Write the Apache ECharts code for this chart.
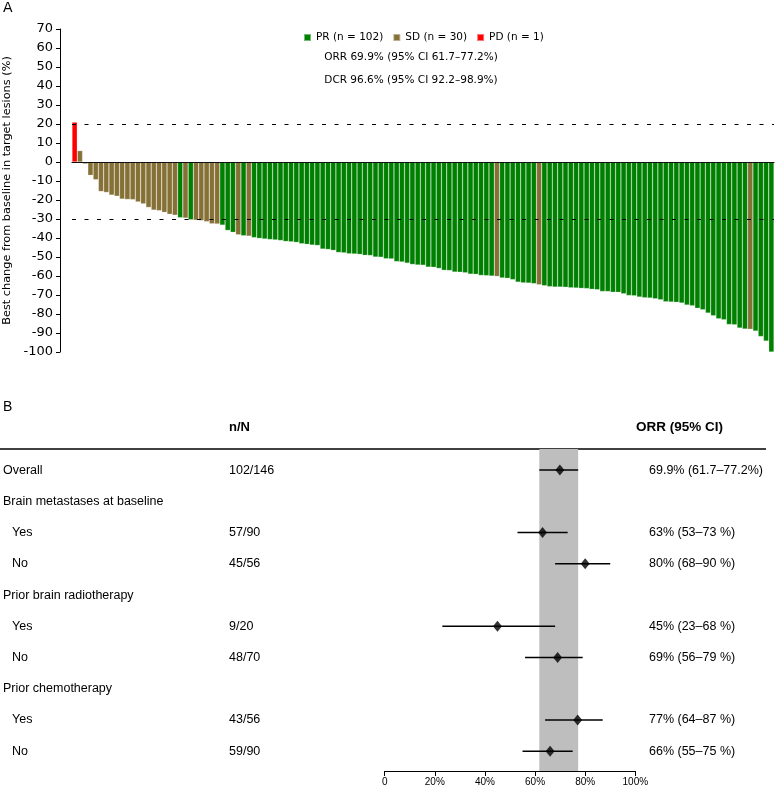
<!DOCTYPE html>
<html><head><meta charset="utf-8">
<script src="https://cdn.jsdelivr.net/npm/echarts/dist/echarts.min.js"></script>
<style>html,body{margin:0;padding:0;background:#fff}#c{width:778px;height:793px}</style>
</head><body><div id="c"></div>
<script>
// ---------- Panel A: waterfall data ----------
const bestChange = [
  21, 6, -1, -7, -9.3, -15.5, -16, -17.4, -18, -19.5,
  -19.7, -19.8, -21, -22, -23.9, -25.3, -25.6, -26.5, -27.5, -28,
  -29.3, -29.5, -30.4, -30.6, -30.8, -31.4, -32.5, -32.6, -33.2, -36,
  -37, -38.3, -38.8, -39, -39.8, -40.2, -40.5, -40.8, -41, -41.3,
  -41.8, -42, -42.3, -43, -43.3, -43.7, -43.9, -45.8, -46, -46.5,
  -47.6, -47.8, -48.3, -48.4, -48.6, -49.1, -49.2, -50, -50.1, -50.9,
  -51, -52.4, -52.6, -53.2, -53.9, -54.2, -54.3, -55.3, -55.4, -56,
  -57, -57.1, -57.9, -58, -58.3, -59, -59.1, -59.7, -59.8, -60,
  -60.2, -61, -61.2, -61.9, -63.2, -63.6, -63.7, -64, -64.6, -65.1,
  -65.6, -65.8, -65.8, -65.9, -66.2, -66.3, -66.5, -66.6, -67, -67.2,
  -68.1, -68.2, -68.5, -68.6, -69.3, -70.2, -70.4, -71.1, -71.4, -71.6,
  -72, -72.5, -73.5, -73.7, -73.8, -74.2, -75.3, -75.6, -77, -77.7,
  -79.5, -80.9, -82.5, -83, -85.5, -85.7, -87.4, -87.9, -88, -89,
  -91.8, -94.2, -100
];
const response = [
  'PD','SD','SD','SD','SD','SD','SD','SD','SD','SD',
  'SD','SD','SD','SD','SD','SD','SD','SD','SD','SD',
  'PR','SD','PR','SD','SD','SD','SD','SD','PR','PR',
  'PR','SD','PR','SD','PR','PR','PR','PR','PR','PR',
  'PR','PR','PR','PR','PR','PR','PR','PR','PR','PR',
  'PR','PR','PR','PR','PR','PR','PR','PR','PR','PR',
  'PR','PR','PR','PR','PR','PR','PR','PR','PR','PR',
  'PR','PR','PR','PR','PR','PR','PR','PR','PR','PR',
  'SD','PR','PR','PR','PR','PR','PR','PR','SD','PR',
  'PR','PR','PR','PR','PR','PR','PR','PR','PR','PR',
  'PR','PR','PR','PR','PR','PR','PR','PR','PR','PR',
  'PR','PR','PR','PR','PR','PR','PR','PR','PR','PR',
  'PR','PR','PR','PR','PR','PR','PR','PR','SD','PR',
  'PR','PR','PR'
];
const responseTypes = ['PR', 'SD', 'PD'];
const thresholdLines = [20, -30];
const orrSummary = 'ORR 69.9% (95% CI 61.7–77.2%)';
const dcrSummary = 'DCR 96.6% (95% CI 92.2–98.9%)';

// ---------- Panel B: forest data ----------
const rowLabels = ['Overall', 'Brain metastases at baseline', 'Yes', 'No',
  'Prior brain radiotherapy', 'Yes', 'No', 'Prior chemotherapy', 'Yes', 'No'];
const responders = [102, null, 57, 45, null, 9, 48, null, 43, 59];
const totals     = [146, null, 90, 56, null, 20, 70, null, 56, 90];
const orr        = [69.9, null, 63, 80, null, 45, 69, null, 77, 66];
const ciLow      = [61.7, null, 53, 68, null, 23, 56, null, 64, 55];
const ciHigh     = [77.2, null, 73, 90, null, 68, 79, null, 87, 75];
const forestTicks = [0, 20, 40, 60, 80, 100];

// ---------- styling ----------
const colors = { PR: '#008000', SD: '#857036', PD: '#FF0000' };
const fA = '"DejaVu Sans", sans-serif';
const fB = '"Liberation Sans", Arial, sans-serif';

const chart = echarts.init(document.getElementById('c'), null, { renderer: 'canvas' });

const categories = bestChange.map((_, i) => i + 1);
const barSeries = responseTypes.map((t, si) => {
  const s = {
    type: 'bar',
    name: `${t} (n = ${response.filter(r => r === t).length})`,
    xAxisIndex: 0, yAxisIndex: 0,
    data: bestChange.map((v, i) => response[i] === t ? v : '-'),
    barGap: '-100%', barCategoryGap: '0%',
    itemStyle: { color: colors[t], borderColor: 'rgba(255,255,255,0.45)', borderWidth: 0.5 },
    silent: true
  };
  if (si === responseTypes.length - 1) {
    s.markLine = {
      silent: true, symbol: 'none', label: { show: false },
      lineStyle: { color: '#000', type: [4, 8.5], width: 1 },
      data: thresholdLines.map(v => ({ yAxis: v }))
    };
  }
  return s;
});

const rows = rowLabels.map((_, k) => k);
const fmt = k => k === 0
  ? `${orr[k]}% (${ciLow[k]}–${ciHigh[k]}%)`
  : `${orr[k]}% (${ciLow[k]}–${ciHigh[k]} %)`;

const option = {
  animation: false,
  backgroundColor: '#fff',
  legend: {
    data: barSeries.map(s => s.name),
    left: 298, top: 27, padding: 5,
    icon: 'rect', itemWidth: 7, itemHeight: 7, itemGap: 9,
    textStyle: { fontFamily: fA, fontSize: 10.5, color: '#000' },
    selectedMode: false
  },
  grid: [
    { left: 72, right: 4, top: 29, height: 323, outerBoundsMode: 'none', containLabel: false },
    { left: 384.7, right: 142.7, top: 449, bottom: 22, outerBoundsMode: 'none', containLabel: false }
  ],
  xAxis: [
    { type: 'category', gridIndex: 0, data: categories, z: 10,
      axisLine: { onZero: true, lineStyle: { color: '#111', width: 1.2 } },
      axisTick: { show: false }, axisLabel: { show: false }, splitLine: { show: false } },
    { type: 'value', gridIndex: 1, min: 0, max: 100, interval: 20,
      axisLine: { show: true, onZero: false, lineStyle: { color: '#000', width: 1 } },
      axisTick: { show: true, length: 5, lineStyle: { color: '#000' } },
      axisLabel: { color: '#000', fontFamily: fB, fontSize: 10, margin: 6,
        formatter: v => forestTicks.includes(v) ? (v === 0 ? '0' : v + '%') : '' },
      splitLine: { show: false } }
  ],
  yAxis: [
    { type: 'value', gridIndex: 0, min: -100, max: 70, interval: 10, offset: 12,
      axisLine: { show: true, lineStyle: { color: '#000' } },
      axisTick: { show: true, length: 4, lineStyle: { color: '#000' } },
      axisLabel: { color: '#000', fontFamily: fA, fontSize: 13, margin: 7 },
      splitLine: { show: false },
      name: 'Best change from baseline in target lesions (%)',
      nameLocation: 'middle', nameGap: 44,
      nameTextStyle: { fontFamily: fA, fontSize: 11.3, color: '#000' } },
    { type: 'value', gridIndex: 1, inverse: true, min: -0.675, max: 9.632, show: false }
  ],
  graphic: [
    { type: 'text', x: 3, y: 1, style: { text: 'A', font: `14px ${fA}`, fill: '#000' } },
    { type: 'text', x: 411, y: 57, style: { text: orrSummary, font: `10.5px ${fA}`, fill: '#000', align: 'center', verticalAlign: 'middle' } },
    { type: 'text', x: 411, y: 80, style: { text: dcrSummary, font: `10.5px ${fA}`, fill: '#000', align: 'center', verticalAlign: 'middle' } },
    { type: 'text', x: 3, y: 407, style: { text: 'B', font: `14px ${fB}`, fill: '#000', verticalAlign: 'middle' } },
    { type: 'text', x: 229, y: 427, style: { text: 'n/N', font: `bold 13px ${fB}`, fill: '#000', verticalAlign: 'middle' } },
    { type: 'text', x: 636, y: 427, style: { text: 'ORR (95% CI)', font: `bold 13.5px ${fB}`, fill: '#000', verticalAlign: 'middle' } },
    { type: 'line', shape: { x1: 0, y1: 449, x2: 766, y2: 449 }, style: { stroke: '#000', lineWidth: 1.5 } }
  ],
  series: [
    ...barSeries,
    { type: 'scatter', xAxisIndex: 1, yAxisIndex: 1, data: [], z: 1, silent: true,
      markArea: { silent: true, itemStyle: { color: '#BEBEBE' },
        data: [[{ xAxis: ciLow[0] }, { xAxis: ciHigh[0] }]] } },
    { type: 'custom', xAxisIndex: 1, yAxisIndex: 1, z: 3, silent: true,
      data: rows.filter(k => orr[k] != null).map(k => [ciLow[k], ciHigh[k], k]),
      renderItem: (p, api) => {
        const a = api.coord([api.value(0), api.value(2)]);
        const b = api.coord([api.value(1), api.value(2)]);
        return { type: 'line', shape: { x1: a[0], y1: a[1], x2: b[0], y2: b[1] },
          style: { stroke: '#000', lineWidth: 1.5 } };
      } },
    { type: 'scatter', xAxisIndex: 1, yAxisIndex: 1, z: 4, silent: true,
      symbol: 'diamond', symbolSize: [9, 11], itemStyle: { color: '#000' },
      data: rows.filter(k => orr[k] != null).map(k => [orr[k], k]) },
    { type: 'custom', xAxisIndex: 1, yAxisIndex: 1, z: 5, silent: true,
      data: rows.map(k => [0, k]),
      renderItem: (p, api) => {
        const k = api.value(1);
        const y = api.coord([0, k])[1];
        const indent = responders[k] != null && k > 0;
        const children = [{ type: 'text', x: indent ? 12 : 3, y,
          style: { text: rowLabels[k], font: `12.5px ${fB}`, fill: '#000', verticalAlign: 'middle' } }];
        if (responders[k] != null) {
          children.push({ type: 'text', x: 229, y,
            style: { text: `${responders[k]}/${totals[k]}`, font: `12.5px ${fB}`, fill: '#000', verticalAlign: 'middle' } });
          children.push({ type: 'text', x: 649, y,
            style: { text: fmt(k), font: `12.5px ${fB}`, fill: '#000', verticalAlign: 'middle' } });
        }
        return { type: 'group', children };
      } }
  ]
};
chart.setOption(option);
</script></body></html>
